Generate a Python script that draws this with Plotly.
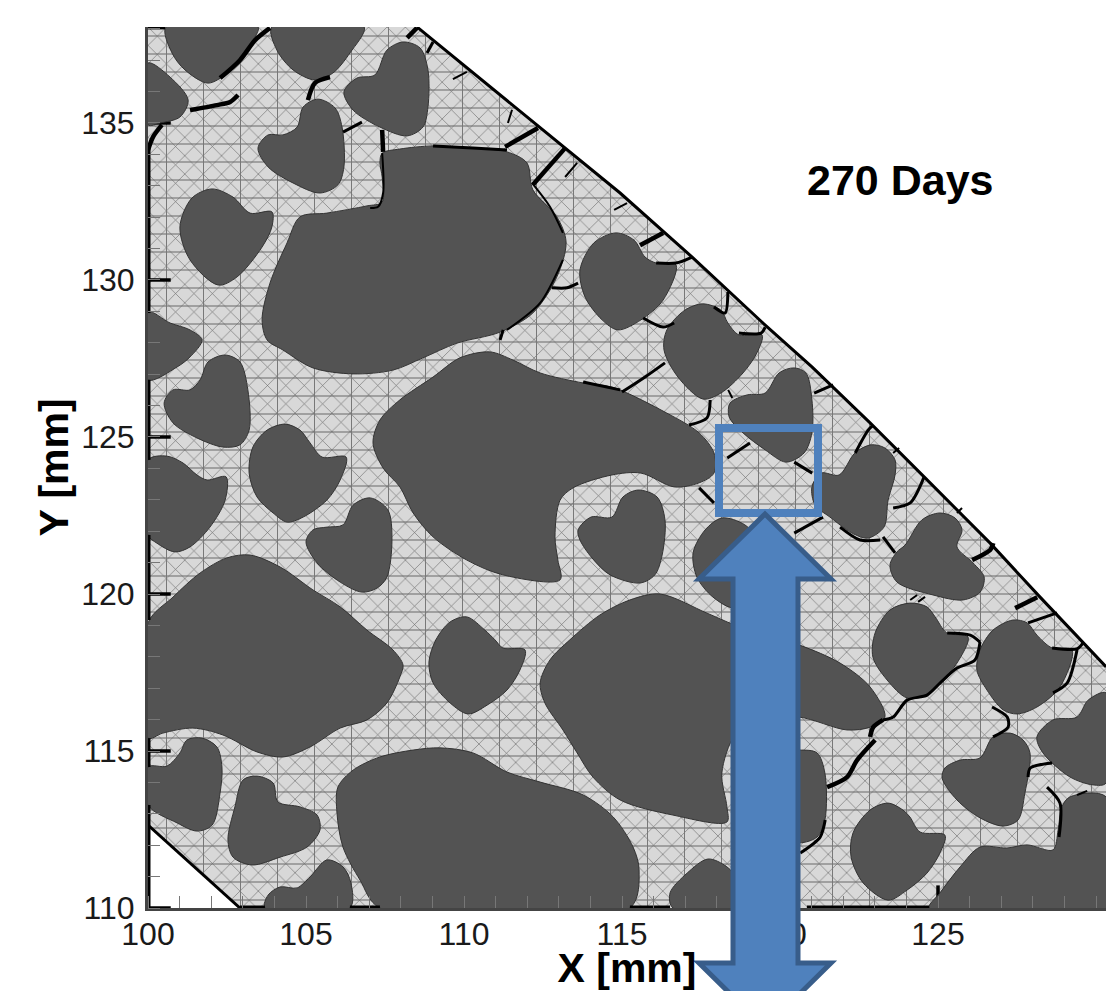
import plotly.graph_objects as go

# ---------- axes ----------
X_RANGE = [100, 130.316]
Y_RANGE = [110, 138.057]
X_TICKS = [100, 105, 110, 115, 120, 125, 130]
Y_TICKS = [110, 115, 120, 125, 130, 135]
MAJOR_TICK_LEN_MM = 0.72

# ---------- model outline (mm) ----------
DOMAIN_X = [100, 108.51, 112.41, 114.94, 117.22, 119.46, 121.01, 122.85, 124.56, 126.65, 128.23, 129.59, 130.32, 130.32, 102.91, 100, 100]
DOMAIN_Y = [138.06, 138.06, 134.87, 132.77, 130.73, 128.63, 127.23, 125.45, 123.73, 121.62, 119.90, 118.44, 117.68, 110, 110, 112.64, 138.06]
EDGE_DIAG_X = [108.51, 112.41, 114.94, 117.22, 119.46, 121.01, 122.85, 124.56, 126.65, 128.23, 129.59, 130.32]
EDGE_DIAG_Y = [138.06, 134.87, 132.77, 130.73, 128.63, 127.23, 125.45, 123.73, 121.62, 119.90, 118.44, 117.68]
CORNER_X = [100, 102.91]
CORNER_Y = [112.64, 110]

# ---------- aggregates (mm) ----------
A_X = [100.57, 100.76, 101.17, 101.90, 102.50, 102.91, 103.39, 103.48]
A_Y = [138.06, 137.23, 136.69, 136.27, 136.59, 137.10, 137.74, 138.06]
B_X = [103.92, 104.08, 104.59, 105.28, 105.85, 106.39, 106.84]
B_Y = [138.06, 137.32, 136.69, 136.37, 136.59, 137.23, 138.06]
C_X = [100, 100.70, 101.27, 101.01, 100.38, 100]
C_Y = [136.91, 136.46, 135.73, 135.19, 135.0, 134.94]
D_X = [108.07, 107.56, 107.18, 106.61, 106.20, 106.49, 107.34, 108.20, 108.70, 108.86, 108.86, 108.61]
D_Y = [137.58, 137.32, 136.53, 136.43, 135.99, 135.41, 134.87, 134.59, 134.87, 135.51, 136.69, 137.39]
E_X = [105.38, 104.91, 104.72, 104.27, 103.80, 103.48, 103.80, 104.59, 105.44, 106.01, 106.20, 106.14, 105.92]
E_Y = [135.76, 135.51, 134.87, 134.62, 134.62, 134.20, 133.60, 133.09, 132.77, 133.03, 133.60, 134.87, 135.48]
F_X = [102.03, 101.39, 101.01, 101.33, 102.22, 102.82, 103.61, 103.92, 103.92, 103.23, 102.69]
F_Y = [132.90, 132.61, 131.69, 130.64, 129.84, 130.10, 131.05, 131.69, 132.17, 132.13, 132.64]
G_X = [107.41, 107.97, 109.02, 110.28, 111.36, 111.99, 112.18, 112.94, 113.23, 112.94, 112.18, 111.14, 109.78, 108.70, 107.75, 106.49, 105.22, 104.27, 103.77, 103.61, 103.86, 104.40, 104.81, 105.66, 106.93, 107.41, 107.41, 107.34]
G_Y = [134.04, 134.17, 134.27, 134.20, 134.08, 133.73, 132.87, 132.01, 131.21, 130.10, 128.95, 128.34, 127.99, 127.52, 127.13, 127.01, 127.20, 127.77, 128.09, 128.73, 129.90, 131.18, 132.01, 132.13, 132.36, 132.48, 133.28, 133.73]
H_X = [100, 100.70, 101.33, 101.71, 101.33, 100.92, 100]
H_Y = [128.98, 128.63, 128.41, 128.09, 127.55, 127.23, 126.82]
I_X = [102.44, 101.90, 101.65, 101.33, 100.79, 100.51, 100.79, 101.55, 102.37, 102.91, 103.20, 103.16, 102.91]
I_Y = [127.61, 127.39, 126.82, 126.50, 126.50, 126.08, 125.45, 124.97, 124.68, 124.75, 125.22, 126.50, 127.39]
J_X = [100, 100.60, 101.11, 101.55, 101.87, 102.47, 102.44, 101.96, 101.33, 100.85, 100.28, 100]
J_Y = [124.27, 124.39, 124.17, 123.79, 123.63, 123.73, 122.99, 122.13, 121.50, 121.34, 121.62, 121.88]
K_X = [104.34, 103.77, 103.32, 103.20, 103.45, 103.96, 104.40, 104.91, 105.66, 106.08, 106.27, 105.51, 105.13, 104.81]
K_Y = [125.41, 125.22, 124.68, 123.85, 123.09, 122.58, 122.29, 122.45, 122.99, 123.63, 124.36, 124.36, 124.81, 125.22]
L_X = [107.03, 106.49, 106.17, 105.66, 105.22, 105.00, 105.35, 106.08, 106.77, 107.25, 107.56, 107.72, 107.59]
L_Y = [123.06, 122.83, 122.20, 122.13, 122.04, 121.66, 120.99, 120.38, 120.06, 120.19, 120.54, 121.72, 122.68]
M_X = [110.82, 109.87, 109.02, 107.97, 107.34, 107.12, 107.44, 107.97, 108.39, 109.02, 110.09, 111.23, 113.04, 112.97, 112.88, 113.04, 113.45, 114.68, 115.60, 116.65, 117.44, 117.91, 117.91, 117.44, 116.42, 114.68, 113.77, 112.41, 111.55]
M_Y = [127.71, 127.52, 126.91, 126.18, 125.54, 124.81, 124.01, 123.41, 122.58, 121.82, 121.08, 120.61, 120.45, 121.08, 121.82, 122.99, 123.38, 123.79, 123.85, 123.41, 123.54, 123.85, 124.49, 125.13, 125.76, 126.59, 126.72, 127.04, 127.45]
N_X = [115.51, 115.03, 114.68, 114.02, 113.61, 113.67, 114.05, 114.62, 115.57, 116.04, 116.27, 116.36, 116.11]
N_Y = [123.31, 123.09, 122.45, 122.45, 122.04, 121.72, 121.15, 120.61, 120.35, 120.61, 121.24, 122.36, 123.09]
O_X = [118.16, 117.63, 117.25, 117.37, 117.88, 118.58, 119.37, 119.53, 118.89]
O_Y = [122.42, 122.04, 121.31, 120.54, 119.90, 119.55, 120.13, 121.40, 122.20]
P_X = [116.20, 117.69, 118.58, 120.60, 121.90, 122.85, 123.32, 122.85, 122.12, 120.60, 119.37, 118.58, 118.16, 118.32, 118.32, 116.61, 114.94, 114.08, 113.58, 113.13, 112.56, 112.41, 112.72, 113.35, 114.30, 115.25]
P_Y = [120.00, 119.39, 119.01, 118.38, 117.80, 117.04, 116.08, 115.76, 115.67, 116.08, 115.99, 115.51, 114.30, 113.22, 112.74, 112.96, 113.44, 114.17, 114.94, 115.67, 116.53, 117.17, 117.90, 118.54, 119.33, 119.81]
Q_X = [100, 100.79, 101.65, 102.50, 103.23, 104.18, 105.22, 106.08, 106.93, 107.75, 108.07, 107.97, 107.56, 106.93, 106.08, 105.13, 104.27, 103.45, 102.37, 101.42, 100.47, 100]
Q_Y = [119.08, 119.90, 120.67, 121.15, 121.24, 120.86, 120.13, 119.59, 118.85, 118.22, 117.74, 117.36, 116.53, 115.99, 115.73, 115.13, 114.81, 114.97, 115.51, 115.73, 115.57, 115.41]
R_X = [110.09, 109.56, 109.11, 108.89, 109.02, 109.56, 110.13, 110.73, 111.36, 111.77, 111.93, 111.23, 110.98, 110.66]
R_Y = [119.27, 119.11, 118.54, 117.83, 117.17, 116.53, 116.18, 116.46, 116.94, 117.58, 118.22, 118.28, 118.54, 118.85]
S_X = [100, 100.60, 101.01, 101.23, 101.71, 102.18, 102.34, 102.28, 102.03, 101.55, 100.92, 100]
S_Y = [114.49, 114.52, 114.94, 115.35, 115.41, 115.13, 114.49, 113.66, 112.64, 112.45, 112.71, 113.28]
T_X = [103.45, 103.01, 102.75, 102.53, 102.69, 103.29, 104.18, 105.03, 105.44, 105.35, 104.81, 104.11, 103.96]
T_Y = [114.20, 114.08, 113.22, 112.17, 111.62, 111.37, 111.62, 111.94, 112.48, 112.96, 113.22, 113.38, 113.98]
U_X = [103.70, 103.80, 104.18, 104.72, 105.13, 105.66, 106.17, 106.42, 106.39]
U_Y = [110, 110.41, 110.67, 110.64, 110.99, 111.53, 111.31, 110.80, 110]
V_X = [107.34, 106.71, 106.17, 105.98, 106.01, 106.49, 107.34, 108.39, 109.24, 110.28, 111.36, 112.41, 113.77, 114.72, 115.35, 115.54, 115.25]
V_Y = [110, 110.89, 111.94, 113.03, 113.85, 114.39, 114.81, 115.03, 115.10, 114.94, 114.33, 114.01, 113.60, 112.90, 111.94, 111.21, 110]
W_X = [116.61, 116.52, 117.06, 117.72, 118.32, 118.73, 118.73]
W_Y = [110, 110.48, 111.11, 111.56, 111.31, 110.80, 110]
X1_X = [119.37, 120.60, 121.17, 121.42, 121.42, 121.17, 120.60, 119.37]
X1_Y = [114.87, 115.03, 114.94, 114.30, 112.80, 112.26, 112.07, 112.32]
Y1_X = [124.11, 123.48, 123.01, 122.94, 123.39, 124.02, 124.65, 125.06, 125.60, 125.95, 125.28, 124.91, 124.65]
Y1_Y = [119.71, 119.49, 118.76, 117.99, 117.26, 116.69, 116.78, 117.17, 117.80, 118.63, 118.76, 119.27, 119.59]
Z_X = [125.06, 124.49, 123.96, 123.70, 123.48, 123.70, 124.84, 125.79, 126.33, 126.46, 126.11, 125.60, 125.76, 125.54]
Z_Y = [122.58, 122.36, 121.56, 121.34, 120.92, 120.38, 119.97, 119.81, 120.06, 120.54, 120.99, 121.50, 122.04, 122.42]
AA_X = [120.44, 119.97, 119.53, 118.96, 118.42, 118.39, 118.83, 119.53, 120.19, 120.76, 121.01, 121.01, 120.82]
AA_Y = [127.20, 127.04, 126.40, 126.34, 126.08, 125.64, 125.13, 124.59, 124.20, 124.49, 125.13, 126.18, 127.04]
AB_X = [114.81, 114.11, 113.67, 113.83, 114.37, 114.87, 115.60, 116.30, 116.71, 116.08, 115.73, 115.38]
AB_Y = [131.50, 131.18, 130.32, 129.46, 128.73, 128.41, 128.73, 129.36, 130.48, 130.54, 130.73, 131.27]
AC_X = [117.56, 116.99, 116.42, 116.33, 116.77, 117.56, 118.13, 118.83, 119.27, 119.43, 118.70, 118.35, 118.13]
AC_Y = [129.24, 129.04, 128.41, 127.77, 126.91, 126.21, 126.40, 127.04, 127.68, 128.25, 128.25, 128.63, 129.04]
AD_X = [122.88, 122.37, 121.87, 121.30, 121.01, 121.11, 121.58, 122.28, 122.78, 123.29, 123.42, 123.64, 123.64, 123.32]
AD_Y = [124.75, 124.49, 123.79, 123.85, 123.41, 122.83, 122.45, 121.94, 121.78, 122.13, 122.99, 123.79, 124.27, 124.65]
AE_X = [127.37, 126.74, 126.33, 126.23, 126.55, 127.06, 127.50, 128.13, 128.86, 129.24, 128.61, 128.13, 127.82]
AE_Y = [119.17, 118.85, 118.22, 117.58, 116.94, 116.31, 116.18, 116.40, 117.04, 118.22, 118.28, 118.69, 119.08]
AF_X = [127.28, 126.74, 126.33, 125.70, 125.22, 125.13, 125.60, 126.33, 127.06, 127.53, 127.75, 127.91, 127.69]
AF_Y = [115.57, 115.45, 114.78, 114.71, 114.46, 114.14, 113.44, 112.87, 112.61, 112.80, 113.66, 114.94, 115.35]
AG_X = [130.32, 129.75, 129.40, 128.64, 128.13, 128.32, 129.18, 129.91, 130.32]
AG_Y = [116.85, 116.62, 116.08, 115.99, 115.45, 114.94, 114.17, 113.92, 113.98]
AH_X = [124.72, 125.06, 125.70, 126.33, 127.18, 127.82, 128.64, 128.80, 128.92, 129.18, 130.32, 130.32]
AH_Y = [110, 110.48, 111.31, 111.94, 111.91, 112.01, 111.85, 112.48, 113.22, 113.54, 113.54, 110]
AI_X = [123.42, 122.85, 122.31, 122.25, 122.63, 123.42, 124.02, 124.65, 125.06, 125.22, 124.43, 124.11, 123.89]
AI_Y = [113.34, 113.12, 112.39, 111.62, 110.80, 110.25, 110.57, 111.11, 111.75, 112.32, 112.42, 112.90, 113.12]

AGGREGATES = [(A_X, A_Y), (B_X, B_Y), (C_X, C_Y), (D_X, D_Y), (E_X, E_Y), (F_X, F_Y), (G_X, G_Y),
              (H_X, H_Y), (I_X, I_Y), (J_X, J_Y), (K_X, K_Y), (L_X, L_Y), (M_X, M_Y), (N_X, N_Y),
              (O_X, O_Y), (P_X, P_Y), (Q_X, Q_Y), (R_X, R_Y), (S_X, S_Y), (T_X, T_Y), (U_X, U_Y),
              (V_X, V_Y), (W_X, W_Y), (X1_X, X1_Y), (Y1_X, Y1_Y), (Z_X, Z_Y), (AA_X, AA_Y),
              (AB_X, AB_Y), (AC_X, AC_Y), (AD_X, AD_Y), (AE_X, AE_Y), (AF_X, AF_Y), (AG_X, AG_Y),
              (AH_X, AH_Y), (AI_X, AI_Y)]

# ---------- cracks (mm) ----------
EDGE_CRACKS = [
    [(100, 134.36), (100, 128.95)], [(100, 126.82), (100, 124.27)], [(100, 121.88), (100, 119.17)],
    [(100, 115.41), (100, 114.49)], [(100, 113.28), (100, 110)],
    [(102.91, 110), (103.70, 110)], [(106.39, 110), (107.34, 110)], [(115.25, 110), (116.52, 110)],
    [(120.85, 110), (124.72, 110)], [(100, 138.06), (100.54, 138.06)],
]
THICK_CRACKS = [
    [(102.28, 136.43), (102.91, 137.00), (103.39, 137.64), (103.86, 138.03)],
    [(101.33, 135.41), (102.18, 135.57), (102.60, 135.67), (102.85, 135.89)],
    [(100, 134.14), (100.16, 134.56), (100.44, 134.94)],
    [(105.06, 135.73), (105.28, 136.27), (105.76, 136.46)],
    [(107.41, 134.78), (107.44, 134.08)],
    [(111.30, 134.24), (112.34, 134.84)],
    [(112.18, 133.03), (113.20, 134.20)],
    [(108.20, 137.71), (108.51, 138.03)],
    [(115.57, 131.11), (116.30, 131.50)],
    [(127.44, 119.55), (128.14, 119.90)],
    [(126.08, 121.08), (126.65, 121.40), (126.75, 121.62)],
    [(123.26, 115.99), (122.95, 115.76), (122.85, 115.45)],
    [(123.01, 115.35), (122.44, 114.71), (122.12, 114.17), (121.49, 113.85)],
]
MEDIUM_CRACKS = [
    [(106.17, 134.71), (106.77, 135.03)],
    [(109.02, 134.27), (110.28, 134.20), (111.36, 134.14)],
    [(108.83, 137.23), (109.02, 137.58)],
    [(112.78, 129.75), (113.26, 129.75), (113.61, 129.90)],
    [(111.14, 128.09), (111.24, 128.41)],
    [(116.08, 130.54), (116.71, 130.54), (117.22, 130.73)],
    [(115.67, 128.79), (116.30, 128.50), (116.65, 128.63)],
    [(117.91, 129.14), (118.26, 128.95), (118.35, 129.62)],
    [(118.70, 128.31), (119.40, 128.31), (119.53, 128.50)],
    [(115.0, 126.43), (115.73, 126.91), (116.36, 127.36)],
    [(117.12, 125.38), (117.69, 125.61), (117.79, 126.18)],
    [(121.08, 126.40), (121.68, 126.66)],
    [(118.33, 124.33), (119.05, 124.81)],
    [(120.45, 124.20), (121.02, 123.85)],
    [(122.38, 124.49), (122.79, 125.22), (122.95, 125.38)],
    [(123.58, 122.74), (124.12, 122.90), (124.56, 123.73)],
    [(117.44, 123.38), (117.91, 122.90)],
    [(120.45, 121.94), (121.36, 122.45)],
    [(121.90, 122.13), (122.53, 121.72), (123.17, 121.72)],
    [(123.26, 121.82), (123.64, 121.31)],
    [(127.85, 119.08), (128.77, 119.40)],
    [(128.61, 118.28), (129.40, 118.25), (129.59, 118.44)],
    [(129.40, 118.22), (129.09, 117.17), (128.64, 116.85)],
    [(125.29, 118.76), (126.02, 118.69), (126.33, 118.47)],
    [(126.33, 118.47), (126.17, 117.90), (125.60, 117.64), (125.07, 117.17), (124.65, 116.78), (124.02, 116.62), (123.58, 116.08), (123.26, 115.99)],
    [(126.71, 116.40), (127.19, 116.08), (127.22, 115.76), (126.74, 115.45)],
    [(127.85, 114.17), (127.92, 114.46), (128.61, 114.62)],
    [(128.45, 113.85), (128.86, 113.34), (128.83, 112.26)],
    [(121.43, 112.80), (121.27, 112.26), (120.64, 111.75)],
    [(113.77, 126.75), (114.94, 126.50)],
]
THIN_CRACKS = [
    [(113.20, 133.28), (113.58, 133.73)],
    [(111.39, 135.0), (111.52, 135.42)],
    [(109.65, 136.40), (110.09, 136.63)],
    [(112.15, 133.09), (112.72, 132.33), (113.13, 131.50)],
    [(113.13, 130.64), (112.41, 129.27), (111.36, 128.41)],
    [(107.41, 134.04), (107.44, 132.77), (107.28, 132.33), (107.03, 132.29)],
    [(114.75, 132.23), (115.16, 132.45)],
    [(118.36, 126.50), (118.49, 126.24)],
    [(123.58, 124.49), (123.77, 124.65)],
    [(125.60, 122.58), (125.76, 122.74)],
    [(124.12, 119.81), (124.34, 119.97)],
    [(124.37, 119.75), (124.59, 119.91)],
    [(129.40, 113.60), (129.72, 113.73)],
]

# ---------- overlay drawn on the slide, in page pixels ----------
ARROW_PX = [(765, 514), (831, 579), (798, 579), (798, 963), (831, 963), (765, 1028), (699, 963), (733, 963), (733, 579), (699, 579)]
BOX_PX = (719, 428, 818, 513)
PLOT_LEFT, PLOT_TOP, PLOT_RIGHT, PLOT_BOTTOM = 148, 27, 1106, 908


def flatten(segments):
    xs, ys = [], []
    for seg in segments:
        xs += [p[0] for p in seg] + [None]
        ys += [p[1] for p in seg] + [None]
    return xs, ys


def px(x):
    return (x - PLOT_LEFT) / (PLOT_RIGHT - PLOT_LEFT)


def py(y):
    return (PLOT_BOTTOM - y) / (PLOT_BOTTOM - PLOT_TOP)


fig = go.Figure()
# mesh: light matrix with a crossing-line texture
fig.add_trace(go.Scatter(x=DOMAIN_X, y=DOMAIN_Y, mode="none", fill="toself", fillcolor="#d8d8d8",
                         fillpattern=dict(shape="x", size=13, solidity=0.09, fgcolor="#666666", bgcolor="#d8d8d8", fillmode="replace"),
                         hoverinfo="skip", showlegend=False))
fig.add_trace(go.Scatter(x=DOMAIN_X, y=DOMAIN_Y, mode="none", fill="toself", fillcolor="rgba(0,0,0,0)",
                         fillpattern=dict(shape="-", size=18, solidity=0.055, fgcolor="#666666", bgcolor="rgba(0,0,0,0)", fillmode="replace"),
                         hoverinfo="skip", showlegend=False))
fig.add_trace(go.Scatter(x=DOMAIN_X, y=DOMAIN_Y, mode="none", fill="toself", fillcolor="rgba(0,0,0,0)",
                         fillpattern=dict(shape="|", size=37, solidity=0.027, fgcolor="#777777", bgcolor="rgba(0,0,0,0)", fillmode="replace"),
                         hoverinfo="skip", showlegend=False))

# major ticks sit on the mesh but under the aggregates
tick_x, tick_y = [], []
for v in X_TICKS:
    tick_x += [v, v, None]
    tick_y += [Y_RANGE[0], Y_RANGE[0] + MAJOR_TICK_LEN_MM, None]
for v in Y_TICKS:
    tick_x += [X_RANGE[0], X_RANGE[0] + MAJOR_TICK_LEN_MM, None]
    tick_y += [v, v, None]
fig.add_trace(go.Scatter(x=tick_x, y=tick_y, mode="lines", line=dict(color="#000000", width=3.5),
                         hoverinfo="skip", showlegend=False))

for ax, ay in AGGREGATES:
    fig.add_trace(go.Scatter(x=ax + ax[:1], y=ay + ay[:1], mode="lines", fill="toself", fillcolor="#535353",
                             line=dict(color="#333333", width=1, shape="spline", smoothing=0.9),
                             hoverinfo="skip", showlegend=False))
for segs, w in ((THIN_CRACKS, 2), (MEDIUM_CRACKS, 3), (THICK_CRACKS, 4.5)):
    cx, cy = flatten(segs)
    fig.add_trace(go.Scatter(x=cx, y=cy, mode="lines", line=dict(color="#000000", width=w, shape="spline", smoothing=0.8),
                             hoverinfo="skip", showlegend=False, cliponaxis=False))
cx, cy = flatten(EDGE_CRACKS)
fig.add_trace(go.Scatter(x=cx, y=cy, mode="lines", line=dict(color="#000000", width=5),
                         hoverinfo="skip", showlegend=False, cliponaxis=False))
fig.add_trace(go.Scatter(x=EDGE_DIAG_X, y=EDGE_DIAG_Y, mode="lines", line=dict(color="#000000", width=3),
                         hoverinfo="skip", showlegend=False))
fig.add_trace(go.Scatter(x=CORNER_X, y=CORNER_Y, mode="lines", line=dict(color="#000000", width=3),
                         hoverinfo="skip", showlegend=False))

axis_common = dict(showgrid=False, zeroline=False, showline=True, linecolor="#444444", linewidth=3,
                   ticks="",
                   tickfont=dict(family="Liberation Sans", size=32, color="#1a1a1a"),
                   minor=dict(dtick=1, ticks="inside", ticklen=12, tickwidth=1, tickcolor="#777777", showgrid=False),
                   automargin=False)
fig.update_xaxes(range=X_RANGE, tickvals=X_TICKS, ticklabelstandoff=-4,
                 title=dict(text="<b>X [mm]</b>", standoff=14, font=dict(family="Liberation Sans", size=41, color="#000000")),
                 **axis_common)
fig.update_yaxes(range=Y_RANGE, tickvals=Y_TICKS, ticklabelstandoff=4,
                 title=dict(text="<b>Y [mm]</b>", standoff=0, font=dict(family="Liberation Sans", size=41, color="#000000")),
                 **axis_common)

arrow_path = "M " + " L ".join(f"{px(a)} {py(b)}" for a, b in ARROW_PX) + " Z"
fig.update_layout(
    width=1106, height=991, autosize=False,
    margin=dict(l=PLOT_LEFT, r=1106 - PLOT_RIGHT, t=PLOT_TOP, b=991 - PLOT_BOTTOM, pad=0),
    paper_bgcolor="#ffffff", plot_bgcolor="#ffffff",
    showlegend=False,
    annotations=[dict(text="<b>270 Days</b>", x=123.8, y=133.2, xref="x", yref="y", showarrow=False,
                      font=dict(family="Liberation Sans", size=43, color="#000000"))],
    shapes=[
        dict(type="rect", xref="paper", yref="paper", x0=px(BOX_PX[0]), x1=px(BOX_PX[2]),
             y0=py(BOX_PX[3]), y1=py(BOX_PX[1]), line=dict(color="#4f81bd", width=8), fillcolor="rgba(0,0,0,0)", layer="above"),
        dict(type="path", xref="paper", yref="paper", path=arrow_path, fillcolor="#4f81bd",
             line=dict(color="#385d8a", width=5), layer="above"),
    ],
)
fig.write_html("out.html", config={"displayModeBar": False},
               post_script="document.body.style.margin='0';document.documentElement.style.overflow='hidden';")
